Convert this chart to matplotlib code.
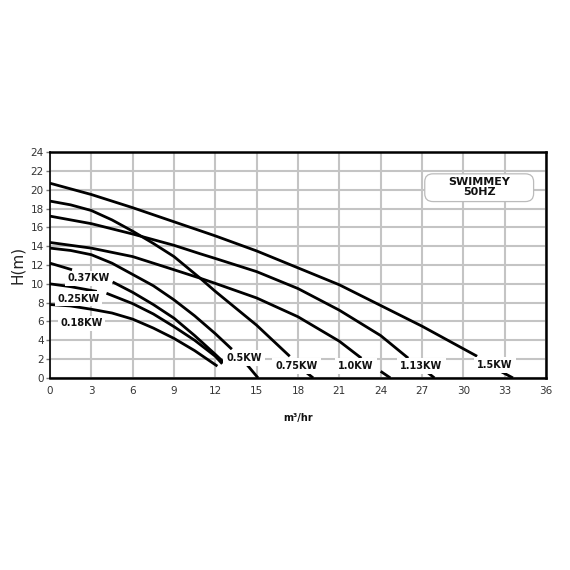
import numpy as np
import matplotlib.pyplot as plt
from matplotlib.patches import FancyBboxPatch

nan = np.nan

# pump curves, flow (m3/hr) vs head (m)
# nan marks where the curve disappears behind its label
power_labels = ['0.18KW', '0.25KW', '0.37KW', '0.5KW', '0.75KW', '1.0KW', '1.13KW', '1.5KW']

flow = {
    '0.18KW': [0, 1.5, 3, 4.5, 6, 7.5, 9, 10.5, 12, 12.15],
    '0.25KW': [0, 1.5, 3, 3.4, nan, 4.1, 6, 7.5, 9, 10.5, 12, 12.5],
    '0.37KW': [0, 1.6, nan, 4.55, 6, 7.5, 9, 10.5, 12, 12.8],
    '0.5KW': [0, 1.5, 3, 4.5, 6, 7.5, 9, 10.5, 12, 13.2, nan, 14.3, 15.1],
    '0.75KW': [0, 1.5, 3, 4.5, 6, 7.5, 9, 10.9, 12, 13.5, 15, 17.4, nan, 18.5, 19.1],
    '1.0KW': [0, 3, 6, 9, 10.9, 12, 15, 18, 21, 22.6, nan, 24.0, 24.7],
    '1.13KW': [0, 3, 6, 9, 10.9, 12, 15, 18, 21, 24, 26.0, nan, 27.3, 27.9],
    '1.5KW': [0, 3, 6, 9, 12, 15, 18, 21, 24, 27, 30, 31.0, nan, 32.7, 33.6],
}
head = {
    '0.18KW': [7.8, 7.65, 7.3, 6.9, 6.25, 5.3, 4.2, 2.9, 1.4, 1.25],
    '0.25KW': [10.0, 9.7, 9.3, 9.2, nan, 9.0, 7.9, 6.8, 5.45, 4.0, 2.3, 1.5],
    '0.37KW': [12.2, 11.5, nan, 10.2, 9.1, 7.8, 6.35, 4.5, 2.5, 1.4],
    '0.5KW': [13.8, 13.55, 13.1, 12.2, 11.0, 9.8, 8.3, 6.6, 4.7, 3.05, nan, 1.4, 0],
    '0.75KW': [18.8, 18.4, 17.8, 16.8, 15.6, 14.3, 12.9, 10.6, 9.2, 7.4, 5.6, 2.3, nan, 0.7, 0],
    '1.0KW': [14.4, 13.8, 12.9, 11.5, 10.6, 10.05, 8.5, 6.5, 3.9, 2.1, nan, 0.7, 0],
    '1.13KW': [17.2, 16.4, 15.3, 14.1, 13.2, 12.7, 11.3, 9.5, 7.2, 4.5, 2.1, nan, 0.7, 0],
    '1.5KW': [20.7, 19.5, 18.1, 16.6, 15.1, 13.5, 11.7, 9.9, 7.7, 5.5, 3.1, 2.3, nan, 0.7, 0],
}

# where each power label sits (flow, head)
label_pos = {
    '0.18KW': (2.3, 5.8),
    '0.25KW': (2.07, 8.4),
    '0.37KW': (2.8, 10.6),
    '0.5KW': (14.1, 2.1),
    '0.75KW': (17.9, 1.3),
    '1.0KW': (22.2, 1.3),
    '1.13KW': (26.95, 1.3),
    '1.5KW': (32.3, 1.4),
}

x_ticks = list(range(0, 37, 3))
y_ticks = list(range(0, 25, 2))
title_lines = ['SWIMMEY', '50HZ']

fig = plt.figure(figsize=(5.7, 5.7), dpi=100)
ax = fig.add_axes([0.0877, 0.337, 0.8702, 0.396])

for name in power_labels:
    ax.plot(flow[name], head[name], color='black', lw=2.0, zorder=3,
            solid_capstyle='butt')

for name in power_labels:
    lx, ly = label_pos[name]
    pad = 0.25 if ly > 3 else 0.32
    ax.text(lx, ly, name, fontsize=7, fontweight='bold', ha='center', va='center',
            color='#111111', zorder=4,
            bbox=dict(boxstyle=f'square,pad={pad}', fc='white', ec='none'))

box = FancyBboxPatch((27.2, 18.75), 7.9, 2.95, boxstyle='round,pad=0,rounding_size=0.6',
                     mutation_aspect=1.4, fc='white', ec='#bbbbbb', lw=0.9, zorder=4)
ax.add_patch(box)
ax.text(31.15, 20.25, '\n'.join(title_lines), fontsize=8, fontweight='bold',
        ha='center', va='center', linespacing=1.0, color='#111111', zorder=5)

ax.set_xlim(0, 36)
ax.set_ylim(0, 24)
ax.set_xticks(x_ticks)
ax.set_yticks(y_ticks)
ax.grid(True, color='#c4c4c4', lw=1.5, zorder=1)
ax.set_axisbelow(True)

ax.tick_params(axis='y', direction='out', length=3, width=1, color='#777777',
               labelsize=7.5, labelcolor='#333333', pad=1.5)
ax.tick_params(axis='x', length=0, labelsize=7.5, labelcolor='#333333', pad=6)

for side in ['top', 'right', 'bottom']:
    ax.spines[side].set_linewidth(1.8)
    ax.spines[side].set_color('black')
ax.spines['left'].set_linewidth(1.2)
ax.spines['left'].set_color('black')

ax.set_ylabel('H(m)', fontsize=11, color='#222222', labelpad=4)
ax.set_xlabel('m³/hr', fontsize=7, fontweight='bold', color='#111111', labelpad=12)

fig.savefig('out.png', dpi=100, facecolor='white')
